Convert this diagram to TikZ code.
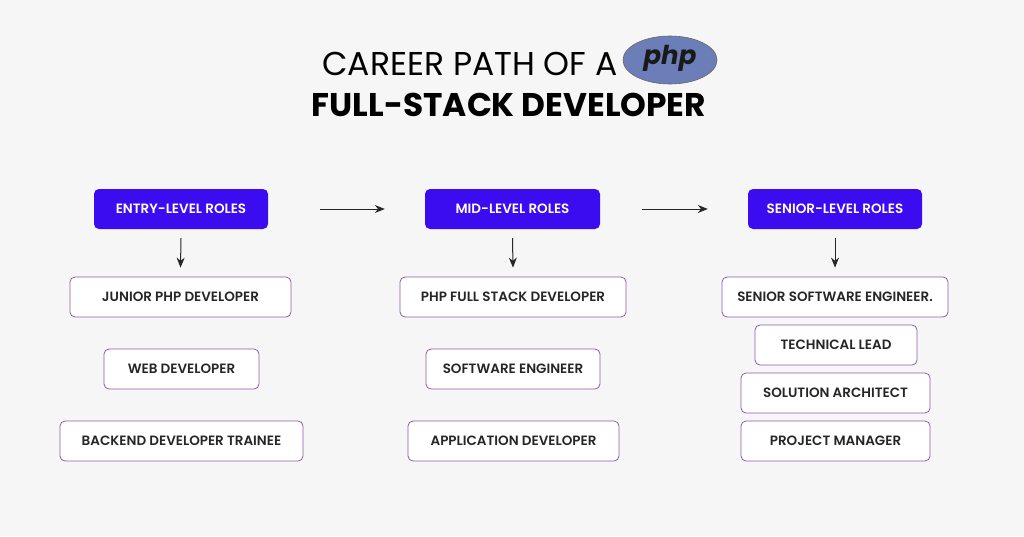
\documentclass[tikz,border=0pt]{standalone}
\usepackage{fontspec}
\setmainfont{Poppins}
\newfontfamily\medf{Poppins SemiBold}
\usetikzlibrary{arrows.meta,shapes.geometric}
\definecolor{bg}{HTML}{F7F6F7}
\definecolor{hdr}{HTML}{3C0CF0}
\definecolor{bord}{HTML}{8A5BA8}
\definecolor{phpb}{HTML}{6C7EB7}
\begin{document}
\begin{tikzpicture}[x=1pt,y=-1pt,
  hd/.style={fill=hdr,rounded corners=5pt,text=white,font=\medf\fontsize{13.5}{16}\selectfont,inner sep=0pt},
  rb/.style={draw=bord,line width=0.8pt,fill=white,rounded corners=5pt,font=\medf\fontsize{13.5}{16}\selectfont,text=black!85,inner sep=0pt},
  ar/.style={-{Stealth[length=10pt,width=8pt]},line width=1pt,black!85}]
\fill[bg] (0,0) rectangle (1024,536);
\useasboundingbox (0,0) rectangle (1024,536);
\node[font=\fontsize{33}{38}\selectfont,anchor=east] (t1) at (621,64) {CAREER PATH OF A};
\node[ellipse,minimum width=94pt,minimum height=48pt,fill=phpb,draw=black!60,line width=0.6pt,inner sep=0pt] (php) at (670,60) {};
\node[font=\bfseries\itshape\fontsize{26}{30}\selectfont,text=black!90] (phpt) at (670,58) {php};
\node[font=\bfseries\fontsize{32.8}{38}\selectfont] (t2) at (509,105) {FULL-STACK DEVELOPER};
\newcommand{\bx}[6]{\node[#1,minimum width=#4-#3,minimum height=40pt] (#2) at ({(#3+#4)/2},#5) {#6};}
\bx{hd}{e}{94}{268}{209}{ENTRY-LEVEL ROLES}
\bx{hd}{m}{425}{600}{209}{MID-LEVEL ROLES}
\bx{hd}{s}{748}{922}{209}{SENIOR-LEVEL ROLES}
\bx{rb}{e1}{70}{291}{297}{JUNIOR PHP DEVELOPER}
\bx{rb}{e2}{104}{259}{369}{WEB DEVELOPER}
\bx{rb}{e3}{60}{303}{441}{BACKEND DEVELOPER TRAINEE}
\bx{rb}{m1}{400}{626}{297}{PHP FULL STACK DEVELOPER}
\bx{rb}{m2}{426}{600}{369}{SOFTWARE ENGINEER}
\bx{rb}{m3}{408}{619}{441}{APPLICATION DEVELOPER}
\bx{rb}{s1}{722}{948}{297}{SENIOR SOFTWARE ENGINEER.}
\bx{rb}{s2}{755}{917}{345}{TECHNICAL LEAD}
\bx{rb}{s3}{741}{930}{393}{SOLUTION ARCHITECT}
\bx{rb}{s4}{741}{930}{441}{PROJECT MANAGER}
\draw[ar] ([xshift=52pt]e.east) -- ([xshift=-40pt]m.west);
\draw[ar] ([xshift=42pt]m.east) -- ([xshift=-40pt]s.west);
\draw[ar] ([yshift=-9pt]e.south) -- ([yshift=9pt]e1.north);
\draw[ar] ([yshift=-9pt]m.south) -- ([yshift=9pt]m1.north);
\draw[ar] ([yshift=-9pt]s.south) -- ([yshift=9pt]s1.north);
\end{tikzpicture}
\end{document}
